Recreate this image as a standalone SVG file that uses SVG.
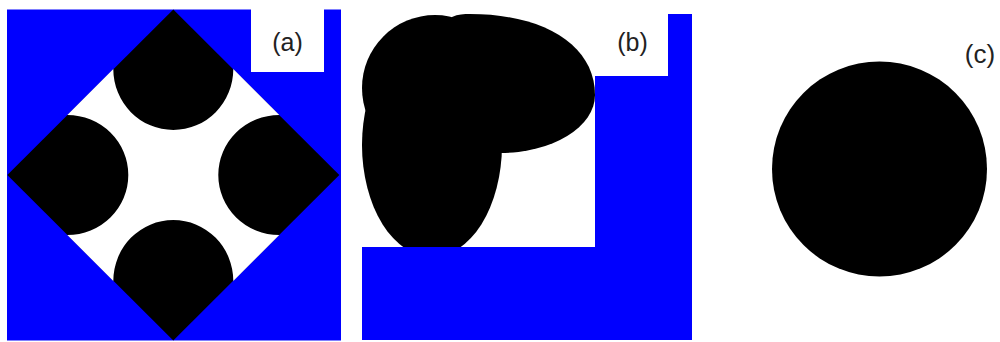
<svg xmlns="http://www.w3.org/2000/svg" width="1000" height="342" viewBox="0 0 1000 342">
  <style>
    .blue { fill: #0000FF; }
    .blk { fill: #000000; }
    .wht { fill: #FFFFFF; }
    .lbl { font-family: "Liberation Sans", Arial, sans-serif; font-size: 25px; fill: #222222; text-anchor: middle; }
  </style>
  <rect x="0" y="0" width="1000" height="342" fill="#FFFFFF"/>

  <g id="panel-a">
    <rect class="blue" x="7" y="9.5" width="334" height="331"/>
    <polygon class="blk" points="173.3,9.5 339.3,175 173.3,340.5 7.3,175"/>
    <path class="wht" d="M 113.3,69 A 60 61 0 0 0 233.3,69 L 279.3,115 A 61 60 0 0 0 279.3,235 L 233.3,281 A 60 61 0 0 0 113.3,281 L 67.3,235 A 61 60 0 0 0 67.3,115 Z"/>
    <rect class="wht" x="251" y="9" width="73" height="63"/>
    <text class="lbl" x="287.5" y="51">(a)</text>
  </g>

  <g id="panel-b">
    <circle class="blk" cx="435" cy="88" r="73"/>
    <ellipse class="blk" cx="432" cy="145" rx="70" ry="112"/>
    <path class="blk" d="M 452,17 C 458,14 464,14 470,14 C 545,14 595,46 595,95 A 95 58 0 0 1 500,153 L 440,153 L 440,60 Z"/>
    <polygon class="blue" points="595,14 692,14 692,340 362,340 362,247 595,247"/>
    <rect class="wht" x="593" y="13" width="75" height="63"/>
    <text class="lbl" x="632.5" y="51">(b)</text>
  </g>

  <g id="panel-c">
    <circle class="blk" cx="879.5" cy="169" r="107.5"/>
    <text class="lbl" x="980" y="62.5" style="font-size:26px">(c)</text>
  </g>

  <g id="connectors"></g>
</svg>
